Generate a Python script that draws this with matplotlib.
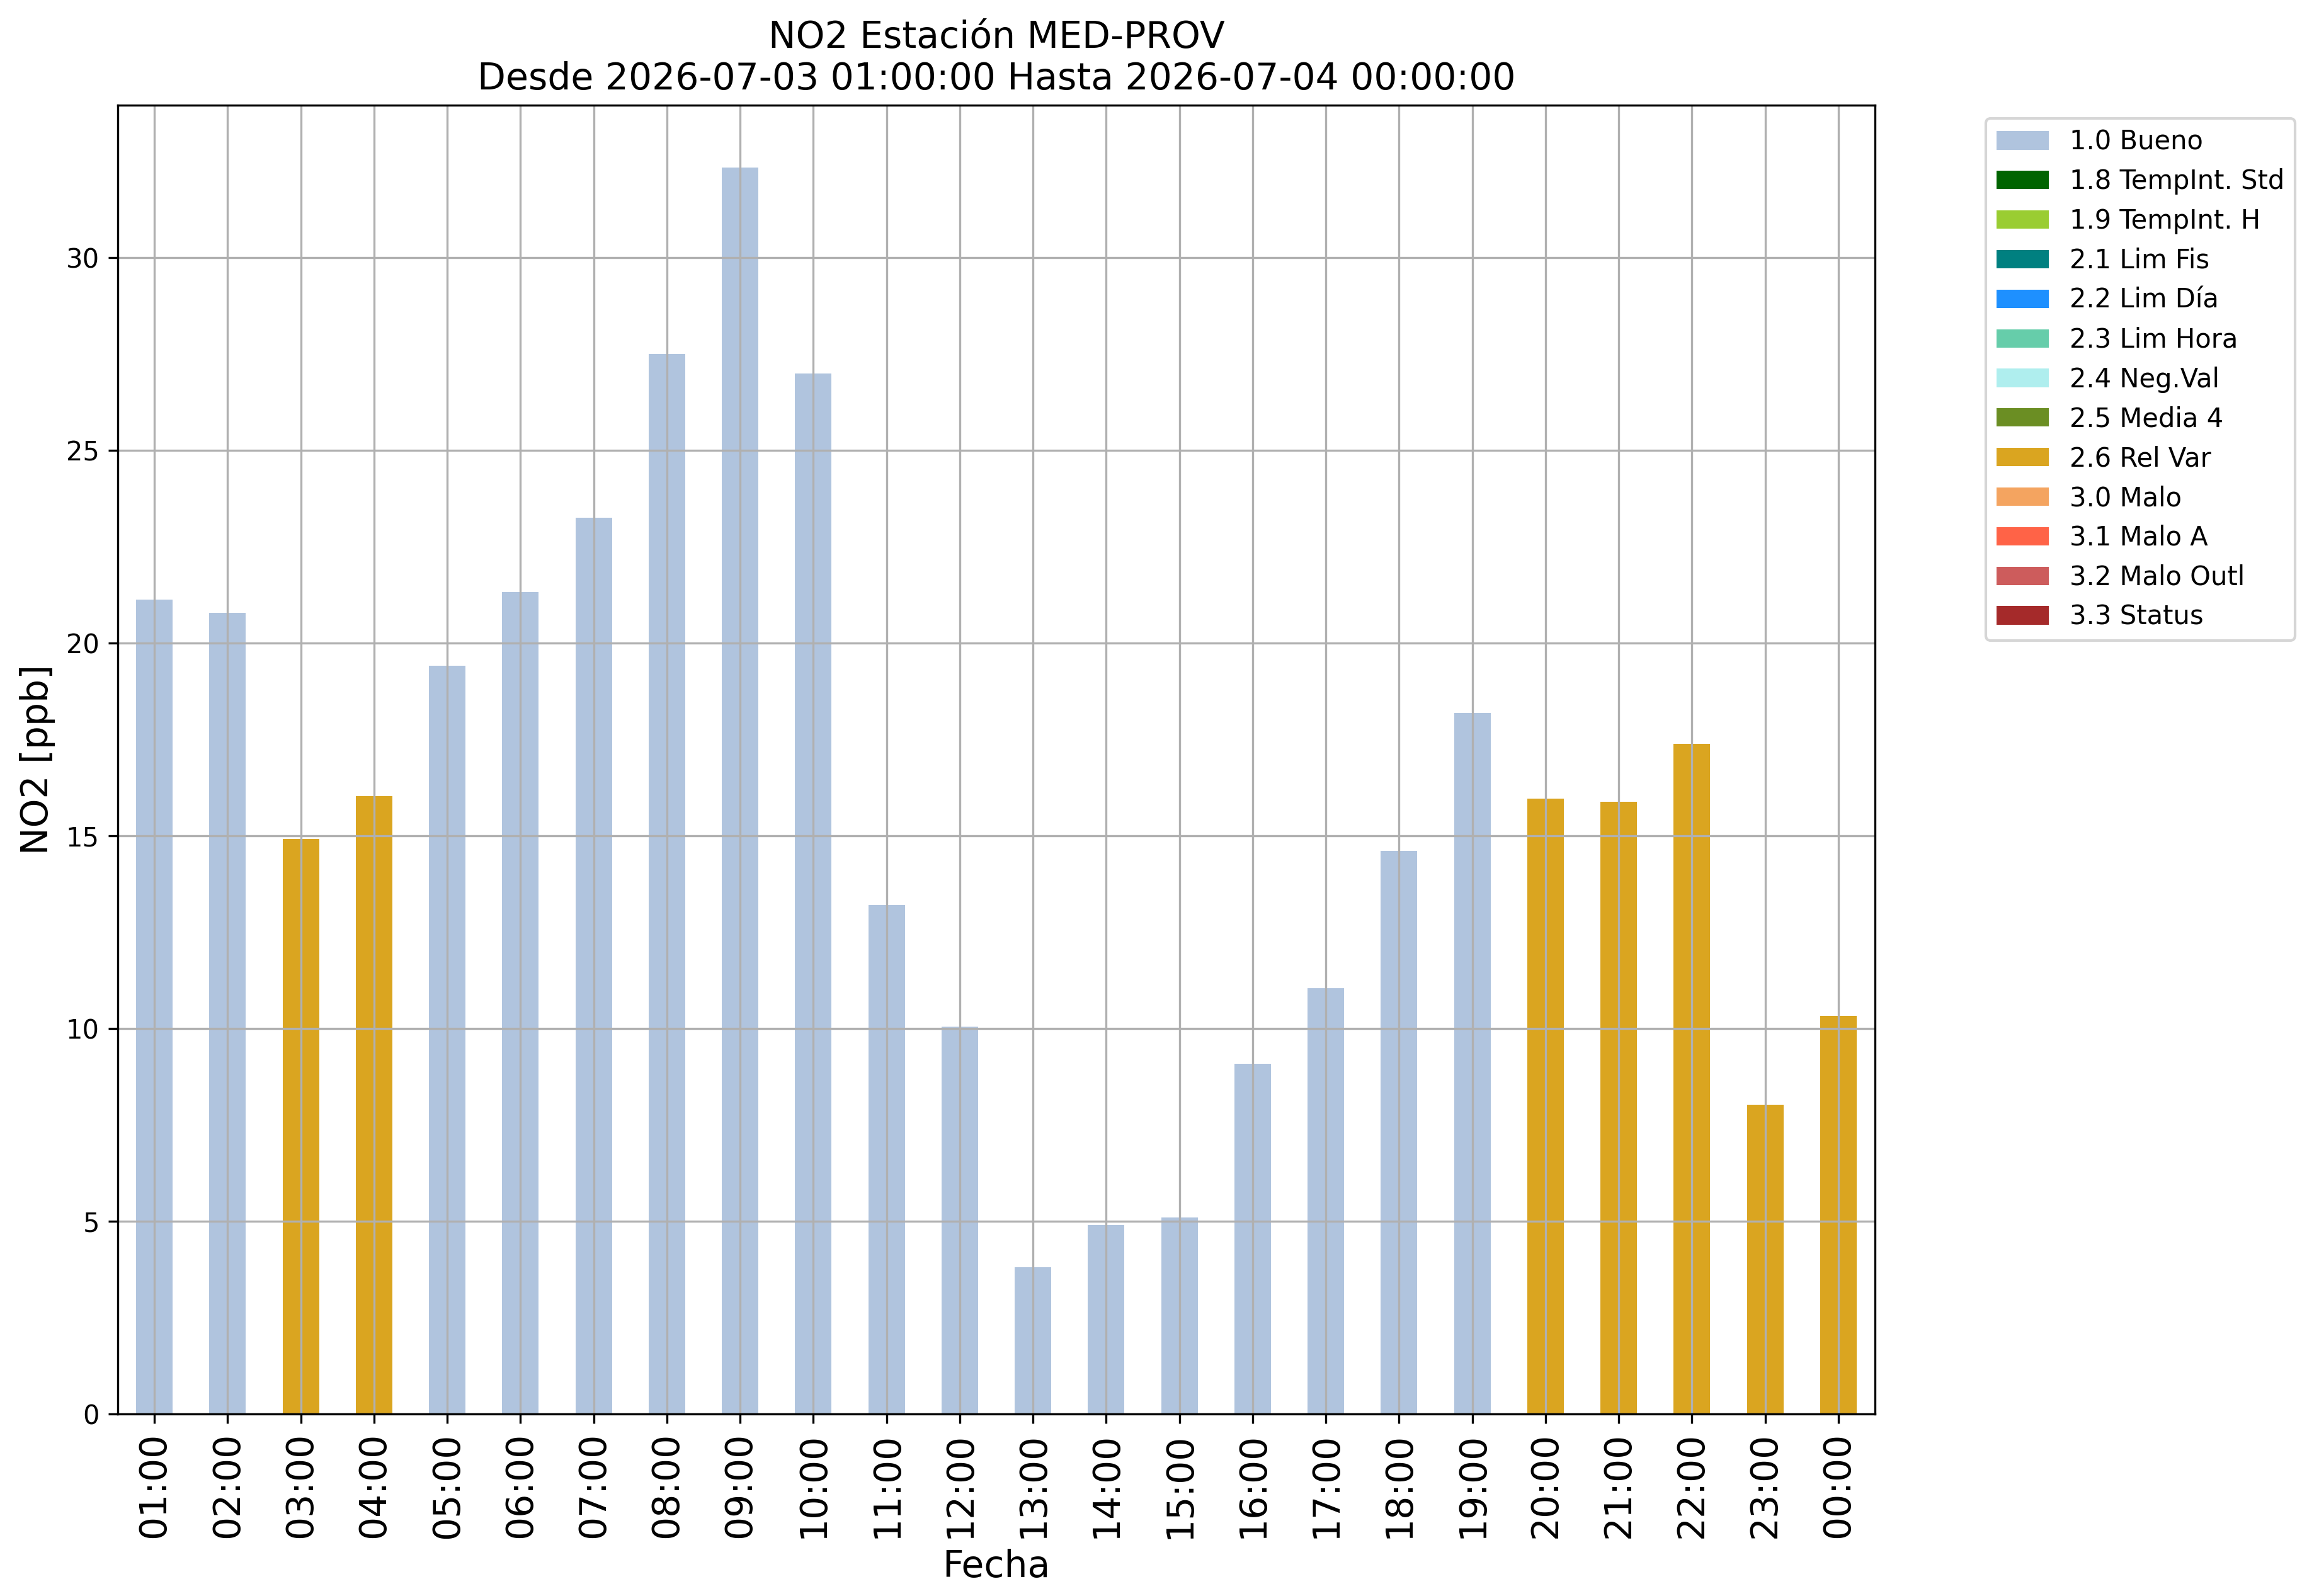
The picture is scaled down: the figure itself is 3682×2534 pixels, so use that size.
import numpy as np
import matplotlib
matplotlib.use("Agg")
import matplotlib.pyplot as plt
from matplotlib.patches import Patch

# hourly NO2 values and their quality flag
horas = ["01:00", "02:00", "03:00", "04:00", "05:00", "06:00", "07:00", "08:00",
         "09:00", "10:00", "11:00", "12:00", "13:00", "14:00", "15:00", "16:00",
         "17:00", "18:00", "19:00", "20:00", "21:00", "22:00", "23:00", "00:00"]
no2 = [21.13, 20.79, 14.92, 16.03, 19.41, 21.33, 23.25, 27.50,
       32.34, 27.00, 13.20, 10.05, 3.80, 4.91, 5.10, 9.09,
       11.05, 14.61, 18.18, 15.96, 15.88, 17.38, 8.02, 10.32]
flags = ["1.0 Bueno", "1.0 Bueno", "2.6 Rel Var", "2.6 Rel Var", "1.0 Bueno", "1.0 Bueno",
         "1.0 Bueno", "1.0 Bueno", "1.0 Bueno", "1.0 Bueno", "1.0 Bueno", "1.0 Bueno",
         "1.0 Bueno", "1.0 Bueno", "1.0 Bueno", "1.0 Bueno", "1.0 Bueno", "1.0 Bueno",
         "1.0 Bueno", "2.6 Rel Var", "2.6 Rel Var", "2.6 Rel Var", "2.6 Rel Var", "2.6 Rel Var"]

categorias = ["1.0 Bueno", "1.8 TempInt. Std", "1.9 TempInt. H", "2.1 Lim Fis", "2.2 Lim Día",
              "2.3 Lim Hora", "2.4 Neg.Val", "2.5 Media 4", "2.6 Rel Var", "3.0 Malo",
              "3.1 Malo A", "3.2 Malo Outl", "3.3 Status"]
colores = ["lightsteelblue", "darkgreen", "yellowgreen", "teal", "dodgerblue",
           "mediumaquamarine", "paleturquoise", "olivedrab", "goldenrod", "sandybrown",
           "tomato", "indianred", "brown"]

fig = plt.figure(figsize=(3682 / 300, 2534 / 300), dpi=300)
ax = fig.add_axes([187 / 3682, 289 / 2534, 2790 / 3682, 2078 / 2534])

x = np.arange(len(horas))
vals = np.array(no2)
fl = np.array(flags)
for cat, col in zip(categorias, colores):
    sel = fl == cat
    if sel.any():
        ax.bar(x[sel], vals[sel], width=0.5, color=col)

ax.set_xlim(-0.5, len(horas) - 0.5)
ax.set_xticks(x)
ax.set_xticklabels(horas, rotation=90, fontsize=14)
ax.tick_params(axis="y", labelsize=10)
ax.grid(True)
ax.set_xlabel("Fecha", fontsize=14)
ax.set_ylabel("NO2 [ppb]", fontsize=14)
ax.set_title("NO2 Estación MED-PROV\nDesde 2026-07-03 01:00:00 Hasta 2026-07-04 00:00:00",
             fontsize=14)

# every flag category in the legend, even the ones with no bars
handles = [Patch(facecolor=c, label=cat) for cat, c in zip(categorias, colores)]
ax.legend(handles=handles, loc="upper left", bbox_to_anchor=(1.0556, 1.0), fontsize=10)

fig.savefig("out.png", dpi=300)
